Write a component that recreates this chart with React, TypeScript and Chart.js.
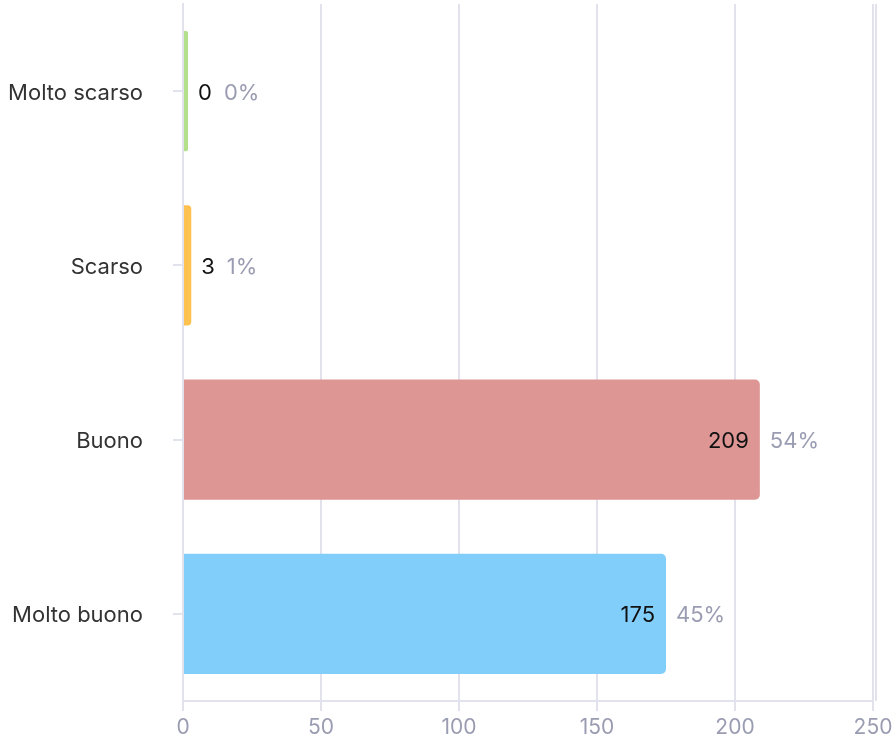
import React, { useEffect, useRef } from "react";
import { Chart, registerables } from "chart.js";

Chart.register(...registerables);

const categories = ["Molto scarso", "Scarso", "Buono", "Molto buono"];
const counts = [0, 3, 209, 175];
const percentLabels = ["0%", "1%", "54%", "45%"];
const barColors = ["#b3e08a", "#ffc14f", "#dd9694", "#82cefa"];
const xTicks = [0, 50, 100, 150, 200, 250];

const FONT = "Inter, 'Noto Sans', sans-serif";
const GRID = "#e2e2ec";
const MUTED = "#9a9cb2";

const labelPlugin = {
  id: "barLabels",
  afterDatasetsDraw(chart: any) {
    const ctx = chart.ctx;
    const meta = chart.getDatasetMeta(0);
    ctx.save();
    ctx.font = `22px ${FONT}`;
    ctx.textBaseline = "middle";
    meta.data.forEach((bar: any, i: number) => {
      const val = String(counts[i]);
      const pct = percentLabels[i];
      const w = ctx.measureText(val).width;
      const barW = bar.x - bar.base;
      const y = bar.y + 2;
      if (barW > w + 22) {
        ctx.fillStyle = "#111111";
        ctx.textAlign = "right";
        ctx.fillText(val, bar.x - 11, y);
        ctx.fillStyle = MUTED;
        ctx.textAlign = "left";
        ctx.fillText(pct, bar.x + 10, y);
      } else {
        ctx.fillStyle = "#111111";
        ctx.textAlign = "left";
        ctx.fillText(val, bar.x + 10, y);
        ctx.fillStyle = MUTED;
        ctx.fillText(pct, bar.x + 10 + w + 12, y);
      }
    });
    ctx.restore();
  },
};

const rightEdgePlugin = {
  id: "rightEdge",
  beforeDatasetsDraw(chart: any) {
    const { ctx, chartArea } = chart;
    ctx.save();
    ctx.strokeStyle = GRID;
    ctx.lineWidth = 2;
    ctx.beginPath();
    ctx.moveTo(chartArea.right + 3, chartArea.top);
    ctx.lineTo(chartArea.right + 3, chartArea.bottom);
    ctx.stroke();
    ctx.restore();
  },
};

export default function App() {
  const ref = useRef<HTMLCanvasElement>(null);
  useEffect(() => {
    if (!ref.current) return;
    const chart = new Chart(ref.current, {
      type: "bar",
      data: {
        labels: categories,
        datasets: [
          {
            data: counts,
            backgroundColor: barColors,
            borderRadius: 5,
            borderSkipped: "start",
            minBarLength: 5,
            barPercentage: 0.69,
            categoryPercentage: 1,
          },
        ],
      },
      plugins: [labelPlugin, rightEdgePlugin],
      options: {
        indexAxis: "y",
        animation: false,
        responsive: false,
        maintainAspectRatio: false,
        layout: { padding: { top: 4, right: 21, left: 0, bottom: 0 } },
        plugins: { legend: { display: false }, tooltip: { enabled: false } },
        scales: {
          x: {
            min: 0,
            max: 250,
            afterBuildTicks: (scale: any) => {
              scale.ticks = xTicks.map((v) => ({ value: v }));
            },
            afterFit: (scale: any) => {
              scale.height = 38;
              scale.paddingRight = 0;
            },
            grid: { color: GRID, lineWidth: 2, tickLength: 10 },
            border: { color: GRID, width: 2 },
            ticks: {
              color: MUTED,
              font: { family: FONT, size: 21 },
              padding: 4,
              maxRotation: 0,
            },
          },
          y: {
            afterFit: (scale: any) => {
              scale.width = 183;
              scale.paddingTop = 0;
              scale.paddingBottom = 0;
            },
            grid: { drawOnChartArea: false, offset: false, color: GRID, lineWidth: 2, tickLength: 10 },
            border: { color: GRID, width: 2 },
            ticks: {
              color: "#333333",
              font: { family: FONT, size: 22 },
              padding: 30,
              labelOffset: 2,
            },
          },
        },
      },
    });
    return () => chart.destroy();
  }, []);
  return (
    <div style={{ position: "fixed", left: 0, top: 0, width: 894, height: 739, background: "#fff" }}>
      <canvas ref={ref} width={894} height={739} style={{ width: 894, height: 739 }} />
    </div>
  );
}
